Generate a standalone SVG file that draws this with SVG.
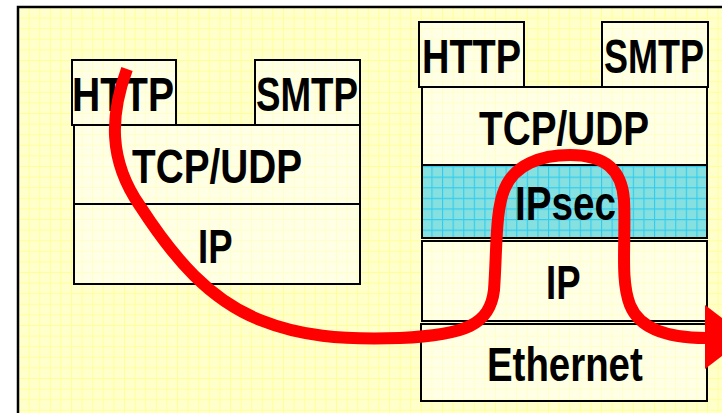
<svg xmlns="http://www.w3.org/2000/svg" width="722" height="413" viewBox="0 0 722 413">
<defs>
<pattern id="gridBg" x="18" y="7" width="10.6" height="10.6" patternUnits="userSpaceOnUse">
<rect width="10.6" height="10.6" fill="#ffffcc"/>
<path d="M0,0.5H10.6M0.5,0V10.6" stroke="#ffff99" stroke-width="1" fill="none"/>
</pattern>
<pattern id="gridBox" x="18" y="7" width="10.6" height="10.6" patternUnits="userSpaceOnUse">
<rect width="10.6" height="10.6" fill="#ffffe6"/>
<path d="M0,0.5H10.6M0.5,0V10.6" stroke="#ffffc8" stroke-width="1" fill="none"/>
</pattern>
<pattern id="gridCyan" x="18" y="7" width="10.6" height="10.6" patternUnits="userSpaceOnUse">
<rect width="10.6" height="10.6" fill="#86e0e0"/>
<path d="M0,0.5H10.6M0.5,0V10.6" stroke="#33ccee" stroke-width="1.2" fill="none"/>
</pattern>
</defs>
<style>
.box{fill:url(#gridBox);stroke:#000;stroke-width:2}
.sec{fill:url(#gridCyan);stroke:#000;stroke-width:2}
.lbl{font-family:"Liberation Sans",Arial,sans-serif;font-weight:bold;font-size:48px;fill:#000}
.flow{fill:none;stroke:#ff0000;stroke-width:12}
</style>
<rect x="18" y="7" width="720" height="420" fill="url(#gridBg)" stroke="#000" stroke-width="2.5"/>

<g id="left-http"><rect class="box" x="72" y="60" width="104" height="65"/><text class="lbl" transform="translate(72,111) scale(0.814,1)">HTTP</text></g>
<g id="left-smtp"><rect class="box" x="255" y="60" width="105" height="65"/><text class="lbl" transform="translate(256,111) scale(0.765,1)">SMTP</text></g>
<g id="left-tcpudp"><rect class="box" x="74" y="125" width="286" height="79"/><text class="lbl" transform="translate(132,183) scale(0.807,1)">TCP/UDP</text></g>
<g id="left-ip"><rect class="box" x="74" y="204" width="286" height="80"/><text class="lbl" transform="translate(198,263) scale(0.76,1)">IP</text></g>

<g id="right-http"><rect class="box" x="419" y="22" width="105" height="65"/><text class="lbl" transform="translate(422,73) scale(0.79,1)">HTTP</text></g>
<g id="right-smtp"><rect class="box" x="602" y="22" width="106" height="65"/><text class="lbl" transform="translate(604,73) scale(0.75,1)">SMTP</text></g>
<g id="right-tcpudp"><rect class="box" x="422" y="87" width="285" height="78"/><text class="lbl" transform="translate(479,145) scale(0.807,1)">TCP/UDP</text></g>
<g id="right-ipsec"><rect class="sec" x="422" y="165" width="285" height="73"/><text class="lbl" transform="translate(515,220) scale(0.805,1)">IPsec</text></g>
<g id="right-ip"><rect class="box" x="422" y="241" width="285" height="80"/><text class="lbl" transform="translate(546,299) scale(0.76,1)">IP</text></g>
<g id="right-ethernet"><rect class="box" x="421" y="324" width="286" height="77"/><text class="lbl" transform="translate(487,381) scale(0.80,1)">Ethernet</text></g>

<g id="connectors">
<path class="flow" d="M127,69 C110,115 108,160 140,206 C175,260 210,300 260,320 C300,336 340,340 400,338 C465,335 490,325 494,290 C497,250 495,210 505,188 C515,165 540,155 570,155 C605,155 622,170 624,200 C626,240 620,280 630,305 C640,330 670,338 706,338"/>
<polygon points="705,305 747,337 705,369" fill="#ff0000"/>
</g>
</svg>
